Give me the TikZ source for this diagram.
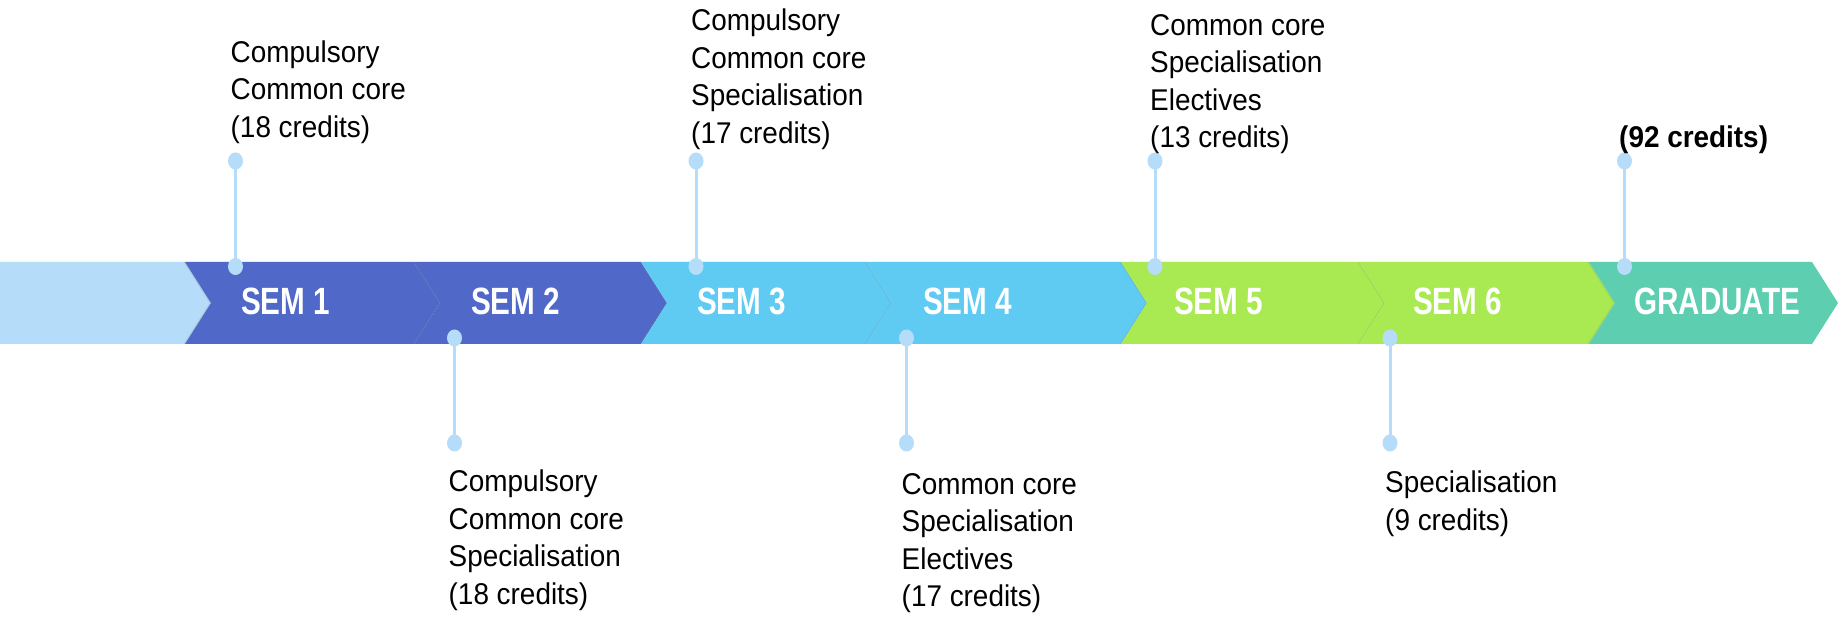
\documentclass[tikz,border=0pt]{standalone}
\usepackage{fontspec}
\setmainfont{Liberation Sans}
\newfontfamily\labfont[FakeStretch=0.93]{Liberation Sans}
\newfontfamily\semfont[FakeStretch=0.78]{Liberation Sans}
\usetikzlibrary{shadows}
\definecolor{cLight}{HTML}{B5DCF8}
\definecolor{cBlue}{HTML}{5068C8}
\definecolor{cCyan}{HTML}{5FCBF2}
\definecolor{cGreen}{HTML}{A9EA52}
\definecolor{cTeal}{HTML}{5ECEB1}
\definecolor{cDot}{HTML}{B5DCF8}
\tikzset{
  piece/.style={drop shadow={shadow xshift=-1.5pt, shadow yshift=0pt, opacity=0.18}},
  semlabel/.style={anchor=base west, inner sep=0pt, text=white, font=\semfont\bfseries\fontsize{38}{40}\selectfont},
  note/.style={anchor=base west, inner sep=0pt, align=left, font=\labfont\fontsize{30}{37.5}\selectfont},
  dot/.style={ellipse, fill=cDot, minimum width=15pt, minimum height=17pt, inner sep=0pt},
  stem/.style={draw=cDot, line width=3pt},
}
\usetikzlibrary{shapes.geometric}
\newcommand\chevpiece[3]{%
  \fill[#3, piece] (#1,354) -- (#2,354) -- ({#2+26},313) -- (#2,272) -- (#1,272) -- ({#1+26},313) -- cycle;}
\begin{document}
\begin{tikzpicture}[x=1pt,y=1pt]
\useasboundingbox (0,0) rectangle (1843,616);
% band
\fill[cLight] (0,354) -- (185,354) -- (211,313) -- (185,272) -- (0,272) -- cycle;
\chevpiece{185}{414}{cBlue}
\chevpiece{414}{641}{cBlue}
\chevpiece{641}{866}{cCyan}
\chevpiece{866}{1121}{cCyan}
\chevpiece{1121}{1359}{cGreen}
\chevpiece{1359}{1589}{cGreen}
\chevpiece{1589}{1812}{cTeal}
% band labels
\node[semlabel] (s1) at (241,301) {SEM 1};
\node[semlabel] (s2) at (471,301) {SEM 2};
\node[semlabel] (s3) at (697,301) {SEM 3};
\node[semlabel] (s4) at (923,301) {SEM 4};
\node[semlabel] (s5) at (1174,301) {SEM 5};
\node[semlabel] (s6) at (1413,301) {SEM 6};
\node[semlabel] (sg) at (1634,301) {GRADUATE};
% anchor points
\coordinate (b1) at (235.5,349.5);  \coordinate (t1) at (235.5,455);
\coordinate (b3) at (696,349.5);    \coordinate (t3) at (696,455);
\coordinate (b5) at (1155,349.5);   \coordinate (t5) at (1155,455);
\coordinate (bg) at (1624.5,349.5); \coordinate (tg) at (1624.5,455);
\coordinate (b2) at (454.5,278);    \coordinate (u2) at (454.5,173);
\coordinate (b4) at (906.5,278);    \coordinate (u4) at (906.5,173);
\coordinate (b6) at (1390,278);     \coordinate (u6) at (1390,173);
% stems
\draw[stem] (b1) -- (t1);
\draw[stem] (b3) -- (t3);
\draw[stem] (b5) -- (t5);
\draw[stem] (bg) -- (tg);
\draw[stem] (b2) -- (u2);
\draw[stem] (b4) -- (u4);
\draw[stem] (b6) -- (u6);
% dots
\node[dot] (b1d) at (b1) {}; \node[dot] (t1d) at (t1) {};
\node[dot] (b3d) at (b3) {}; \node[dot] (t3d) at (t3) {};
\node[dot] (b5d) at (b5) {}; \node[dot] (t5d) at (t5) {};
\node[dot] (bgd) at (bg) {}; \node[dot] (tgd) at (tg) {};
\node[dot] (b2d) at (b2) {}; \node[dot] (u2d) at (u2) {};
\node[dot] (b4d) at (b4) {}; \node[dot] (u4d) at (u4) {};
\node[dot] (b6d) at (b6) {}; \node[dot] (u6d) at (u6) {};
% notes (base anchor = baseline of last line)
\node[note] (n1) at (230.5,478.5) {Compulsory\\Common core\\(18 credits)};
\node[note] (n3) at (691,472.5) {Compulsory\\Common core\\Specialisation\\(17 credits)};
\node[note] (n5) at (1150,468) {Common core\\Specialisation\\Electives\\(13 credits)};
\node[note, font=\labfont\bfseries\fontsize{30}{37.5}\selectfont] (ng) at (1619,468) {(92 credits)};
\node[note] (n2) at (448.5,12) {Compulsory\\Common core\\Specialisation\\(18 credits)};
\node[note] (n4) at (901.5,9.5) {Common core\\Specialisation\\Electives\\(17 credits)};
\node[note] (n6) at (1385,86) {Specialisation\\(9 credits)};
\end{tikzpicture}
\end{document}
